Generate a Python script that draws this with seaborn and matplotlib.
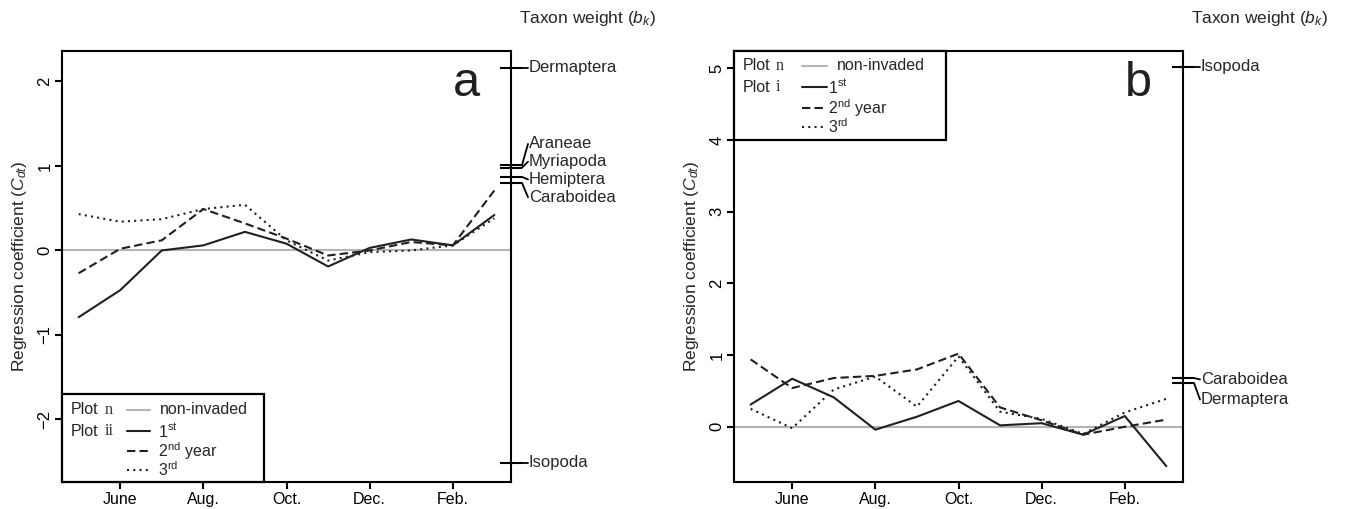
import matplotlib
matplotlib.use("Agg")
import matplotlib.pyplot as plt
import matplotlib.transforms as mtransforms
from matplotlib.patches import Rectangle
from matplotlib.lines import Line2D
import seaborn as sns
import pandas as pd

# Data
months = ['May', 'June', 'July', 'Aug.', 'Sep.', 'Oct.', 'Nov.', 'Dec.', 'Jan.', 'Feb.', 'Mar.']
tick_months = ['June', 'Aug.', 'Oct.', 'Dec.', 'Feb.']
years = ['1st', '2nd', '3rd']
baseline = 0.0  # non-invaded plot

a_first = [-0.79, -0.47, 0.00, 0.06, 0.22, 0.08, -0.19, 0.03, 0.13, 0.06, 0.42]
a_second = [-0.27, 0.02, 0.12, 0.49, 0.32, 0.14, -0.06, 0.00, 0.10, 0.06, 0.71]
a_third = [0.43, 0.34, 0.37, 0.49, 0.54, 0.12, -0.12, -0.02, 0.00, 0.06, 0.38]

b_first = [0.31, 0.67, 0.41, -0.04, 0.14, 0.36, 0.02, 0.05, -0.11, 0.15, -0.55]
b_second = [0.94, 0.54, 0.68, 0.71, 0.80, 1.02, 0.27, 0.09, -0.11, 0.00, 0.10]
b_third = [0.25, -0.02, 0.52, 0.70, 0.28, 0.98, 0.21, 0.11, -0.10, 0.20, 0.39]

a_taxa = ['Dermaptera', 'Araneae', 'Myriapoda', 'Hemiptera', 'Caraboidea', 'Isopoda']
a_weights = [2.16, 1.01, 0.98, 0.87, 0.80, -2.51]
a_label_y = [2.16, 1.26, 1.05, 0.84, 0.63, -2.51]

b_taxa = ['Isopoda', 'Caraboidea', 'Dermaptera']
b_weights = [5.02, 0.68, 0.61]
b_label_y = [5.02, 0.66, 0.38]

INK = '#231f20'
GREY = '#b4b4b4'

sns.set_style('ticks')
plt.rcParams.update({
    'font.family': ['Liberation Sans', 'DejaVu Sans'],
    'mathtext.fontset': 'custom',
    'mathtext.rm': 'Liberation Sans',
    'mathtext.it': 'Liberation Sans:italic',
    'axes.linewidth': 1.5,
    'axes.edgecolor': 'black',
    'xtick.color': 'black',
    'ytick.color': 'black',
})

W, H = 1351, 509
fig = plt.figure(figsize=(W / 100, H / 100), dpi=100)
AX_W, AX_H = 449, 431
ax_a = fig.add_axes([62 / W, 27 / H, AX_W / W, AX_H / H])
ax_b = fig.add_axes([734 / W, 27 / H, AX_W / W, AX_H / H])


def long_frame(first, second, third):
    rows = []
    for yr, vals in zip(years, [first, second, third]):
        for i, v in enumerate(vals):
            rows.append({'month': i, 'year': yr, 'coef': v})
    return pd.DataFrame(rows)


def draw_panel(ax, df, ylim, yticks, letter, taxa, weights, label_y, leg):
    ax.axhline(baseline, color=GREY, lw=1.5, zorder=1)
    sns.lineplot(data=df, x='month', y='coef', style='year',
                 dashes={'1st': '', '2nd': (4, 2), '3rd': (1, 2)},
                 color=INK, lw=1.5, legend=False, ax=ax, zorder=2)
    ax.set_xlim(-0.4, len(months) - 0.6)
    ax.set_ylim(*ylim)
    ax.set_xticks([months.index(m) for m in tick_months])
    ax.set_xticklabels(tick_months, fontsize=11.5)
    ax.set_yticks(yticks)
    ax.set_yticklabels([str(t).replace('-', '\u2212') for t in yticks],
                       rotation=90, va='center', fontsize=12)
    ax.tick_params(direction='out', length=5, width=1.5, pad=2)
    ax.set_xlabel('')
    ax.set_ylabel('Regression coefficient ($C_{dt}$)', fontsize=12.5, labelpad=6)
    for s in ax.spines.values():
        s.set_linewidth(1.5)

    ax.text(0.9, 0.895, letter, transform=ax.transAxes, fontsize=35,
            ha='center', va='baseline', color=INK)

    # right axis: taxon weights
    ax2 = ax.twinx()
    ax2.set_ylim(*ylim)
    ax2.set_yticks(weights)
    ax2.set_yticklabels([])
    ax2.tick_params(axis='y', direction='inout', length=16, width=1.5)
    for s in ax2.spines.values():
        s.set_visible(False)
    trans = mtransforms.blended_transform_factory(ax.transAxes, ax.transData)
    x0 = 1 + 11 / AX_W
    x1 = 1 + 17 / AX_W
    for name, w, ly in zip(taxa, weights, label_y):
        ax.add_line(Line2D([x0, x1], [w, ly], transform=trans, color='black',
                           lw=1.3, clip_on=False))
        ax.text(x1 + 1 / AX_W, ly, name, transform=trans, fontsize=12,
                ha='left', va='center', clip_on=False)
    ax.text(1.17, 1 + 33 / AX_H, 'Taxon weight ($b_k$)', transform=ax.transAxes,
            fontsize=12.5, ha='center', va='center')

    # legend box
    px = lambda v: v / AX_W
    py = lambda v: v / AX_H
    top, height, width = leg['top'], leg['height'], leg['width']
    ax.add_patch(Rectangle((0, py(top - height)), px(width), py(height),
                           transform=ax.transAxes, facecolor='white',
                           edgecolor='black', lw=1.6, zorder=5, clip_on=False))
    rows = [top - r for r in leg['rows']]
    kw = dict(transform=ax.transAxes, fontsize=11.5, va='center', zorder=6)
    ax.text(px(9), py(rows[0]), 'Plot', **kw)
    ax.text(px(leg['sub']), py(rows[0]), 'n', family='Liberation Serif', **kw)
    ax.text(px(9), py(rows[1]), 'Plot', **kw)
    ax.text(px(leg['sub']), py(rows[1]), leg['plot'], family='Liberation Serif', **kw)
    l0, l1 = leg['line']
    styles = [(GREY, '-'), (INK, '-'), (INK, (0, (4, 2))), (INK, (0, (1, 2)))]
    labels = ['non-invaded', '1$^{\\mathrm{st}}$', '2$^{\\mathrm{nd}}$ year', '3$^{\\mathrm{rd}}$']
    for i, ((c, ls), lab) in enumerate(zip(styles, labels)):
        ax.add_line(Line2D([px(l0), px(l1)], [py(rows[i])] * 2, transform=ax.transAxes,
                           color=c, ls=ls, lw=1.5, zorder=6, clip_on=False))
        tx = leg['text0'] if i == 0 else leg['text']
        ax.text(px(tx), py(rows[i]), lab, **kw)


draw_panel(ax_a, long_frame(a_first, a_second, a_third), (-2.74, 2.36),
           [-2, -1, 0, 1, 2], 'a', a_taxa, a_weights, a_label_y,
           dict(top=88, height=88, rows=[16, 37, 57, 76], width=202, sub=43,
                plot='ii', line=(65, 88), text0=98, text=96))
draw_panel(ax_b, long_frame(b_first, b_second, b_third), (-0.77, 5.24),
           [0, 1, 2, 3, 4, 5], 'b', b_taxa, b_weights, b_label_y,
           dict(top=AX_H, height=89, rows=[15, 36, 57, 76], width=212, sub=42,
                plot='i', line=(68, 93), text0=103, text=94))

fig.savefig('out.png', dpi=100)
